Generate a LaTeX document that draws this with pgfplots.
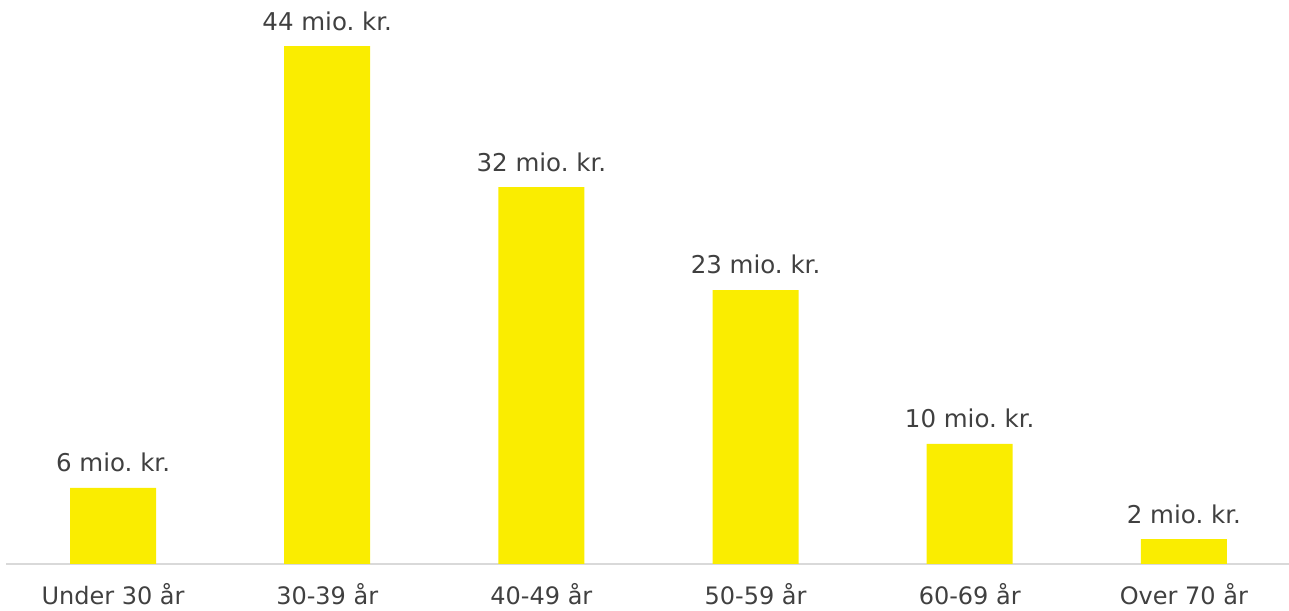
\documentclass[border=0pt]{standalone}
\usepackage{pgfplots}
\pgfplotsset{compat=1.18}
\usepackage{pgfplotstable}
\usepackage{fontspec}
\setmainfont{DejaVu Sans}
\frenchspacing
\definecolor{baryellow}{HTML}{FAED00}
\definecolor{txtgray}{HTML}{404040}
\definecolor{axgray}{HTML}{D9D9D9}
\pgfplotstableread{
x y lab
0 6.46 6
1 44.0 44
2 32.03 32
3 23.28 23
4 10.2 10
5 2.12 2
}\datatable
\begin{document}
\begin{tikzpicture}[x=1pt,y=1pt]
\begin{axis}[
  at={(6pt,46pt)}, anchor=south west,
  scale only axis, width=1285pt, height=564pt,
  xmin=-0.5, xmax=5.5, ymin=0, ymax=47.92,
  hide y axis,
  axis x line=bottom,
  x axis line style={draw=axgray, line width=1.6pt, -},
  major tick length=0pt,
  xtick=data,
  xticklabels={Under 30 år,30-39 år,40-49 år,50-59 år,60-69 år,Over 70 år},
  xticklabel style={anchor=base, yshift=-40pt, text=txtgray, font=\fontsize{24}{28}\selectfont},
  clip=false,
]
\addplot[ybar, bar width=86pt, fill=baryellow, draw=none,
  point meta=explicit symbolic,
  nodes near coords={\pgfplotspointmeta{} mio.\ kr.},
  every node near coord/.append style={anchor=base, yshift=16pt, text=txtgray, font=\fontsize{24.5}{28}\selectfont, inner sep=0pt},
] table[x=x, y=y, meta=lab] {\datatable};
\end{axis}
\pgfresetboundingbox
\path (0,0) rectangle (1289pt,610pt);
\end{tikzpicture}
\end{document}
